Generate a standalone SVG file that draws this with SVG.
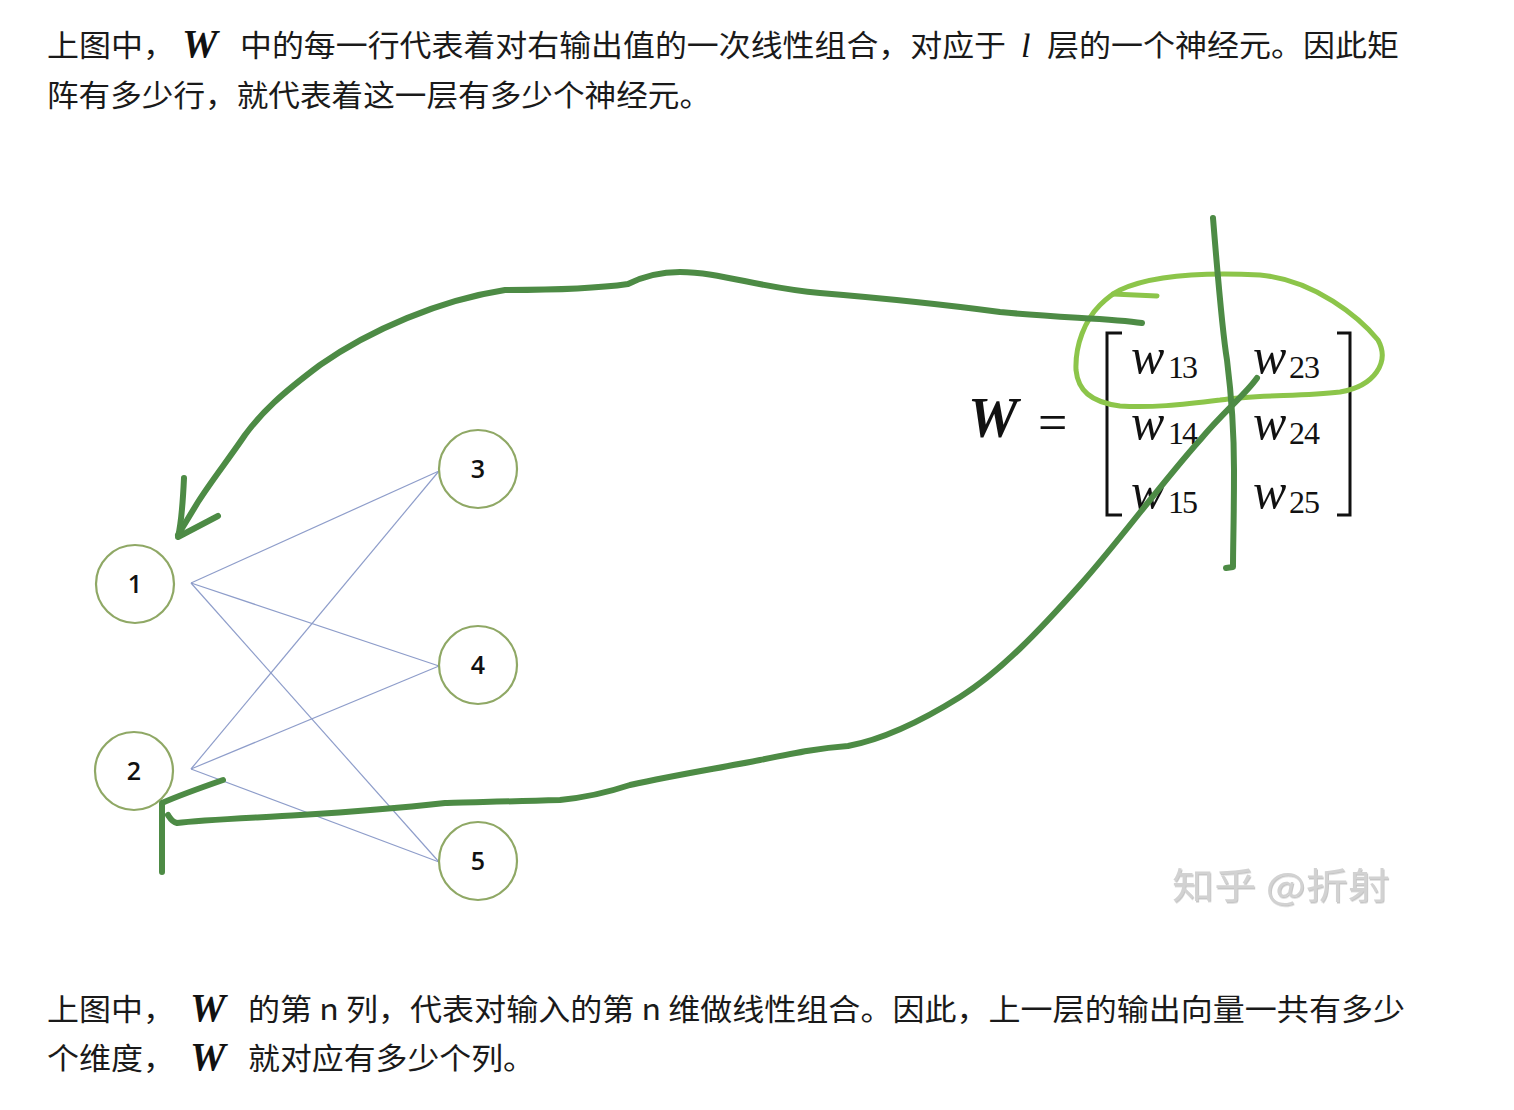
<svg xmlns="http://www.w3.org/2000/svg" width="1514" height="1110" viewBox="0 0 1514 1110">
<defs>
<style>
.cn{font-family:"Noto Sans CJK SC","Noto Sans",sans-serif;font-size:30px;fill:#1a1a1a;}
.bw{font-family:"Liberation Serif",serif;font-weight:bold;font-style:italic;fill:#111;}
.it{font-family:"Liberation Serif",serif;font-style:italic;fill:#111;}
.rm{font-family:"Liberation Serif",serif;fill:#111;}
.node circle{fill:#fff;stroke:#8fa865;stroke-width:2.2;}
.node text{font-family:"Open Sans","Liberation Sans",sans-serif;font-size:25px;font-weight:600;fill:#111;text-anchor:middle;}
.edge{stroke:#8e9dca;stroke-width:1.2;fill:none;}
.dk{stroke:#4d8b45;stroke-width:6;fill:none;stroke-linecap:round;stroke-linejoin:round;}
.lt{stroke:#8cc54a;stroke-width:5;fill:none;stroke-linecap:round;stroke-linejoin:round;}
.br{stroke:#111;stroke-width:3;fill:none;}
.wm{font-family:"Noto Sans CJK SC",sans-serif;font-size:36px;fill:#d2d2d2;}
</style>
<filter id="sh" x="-10%" y="-20%" width="130%" height="150%">
<feDropShadow dx="1" dy="1.5" stdDeviation="0.6" flood-color="#999" flood-opacity="0.55"/>
</filter>
</defs>
<rect width="1514" height="1110" fill="#fff"/>

<g id="text-top">
<text class="cn" x="47" y="56" textLength="128" lengthAdjust="spacingAndGlyphs">上图中，</text>
<text class="bw" x="182" y="57" font-size="40">W</text>
<text class="cn" x="240" y="56" textLength="766" lengthAdjust="spacingAndGlyphs">中的每一行代表着对右输出值的一次线性组合，对应于</text>
<text class="it" x="1021" y="57" font-size="34">l</text>
<text class="cn" x="1047" y="56" textLength="352" lengthAdjust="spacingAndGlyphs">层的一个神经元。因此矩</text>
<text class="cn" x="47" y="106" textLength="664" lengthAdjust="spacingAndGlyphs">阵有多少行，就代表着这一层有多少个神经元。</text>
</g>

<g id="connectors">
<line class="edge" x1="191" y1="583" x2="439" y2="471"/>
<line class="edge" x1="191" y1="583" x2="439" y2="666"/>
<line class="edge" x1="191" y1="583" x2="439" y2="862"/>
<line class="edge" x1="191" y1="769" x2="439" y2="471"/>
<line class="edge" x1="191" y1="769" x2="439" y2="666"/>
<line class="edge" x1="191" y1="769" x2="439" y2="862"/>
</g>

<g id="node-1" class="node"><circle cx="135" cy="584" r="39"/><text x="135" y="593">1</text></g>
<g id="node-2" class="node"><circle cx="134" cy="771" r="39"/><text x="134" y="780">2</text></g>
<g id="node-3" class="node"><circle cx="478" cy="469" r="39"/><text x="478" y="478">3</text></g>
<g id="node-4" class="node"><circle cx="478" cy="665" r="39"/><text x="478" y="674">4</text></g>
<g id="node-5" class="node"><circle cx="478" cy="861" r="39"/><text x="478" y="870">5</text></g>

<g id="matrix">
<text class="bw" x="968" y="437" font-size="56">W</text>
<text class="rm" x="1038" y="440" font-size="52">=</text>
<path class="br" d="M1122,333 L1107,333 L1107,515 L1122,515"/>
<path class="br" d="M1337,333 L1350,333 L1350,515 L1337,515"/>
<text class="it" x="1131" y="373" font-size="50">w</text><text class="rm" x="1168" y="378" font-size="32" textLength="30">13</text>
<text class="it" x="1253" y="373" font-size="50">w</text><text class="rm" x="1289" y="378" font-size="32" textLength="31">23</text>
<text class="it" x="1131" y="439" font-size="50">w</text><text class="rm" x="1168" y="444" font-size="32" textLength="30">14</text>
<text class="it" x="1253" y="439" font-size="50">w</text><text class="rm" x="1289" y="444" font-size="32" textLength="31">24</text>
<text class="it" x="1131" y="508" font-size="50">w</text><text class="rm" x="1168" y="513" font-size="32" textLength="30">15</text>
<text class="it" x="1253" y="508" font-size="50">w</text><text class="rm" x="1289" y="513" font-size="32" textLength="31">25</text>
</g>

<g id="annotations">
<path class="lt" d="M1113,294 L1157,296"/>
<path class="lt" d="M1120,290 C1150,276 1200,272 1260,275 C1315,280 1360,318 1378,340 C1390,362 1375,386 1340,392 C1300,397 1260,394 1220,400 C1180,405 1150,408 1120,406 C1090,402 1078,390 1076,370 C1075,345 1085,320 1100,305 C1108,297 1114,293 1120,290"/>
<path class="dk" d="M1142,323 C1110,318 1060,318 1000,312 C940,304 880,298 820,293 C760,288 720,272 680,272 C655,272 640,278 628,284 C600,288 560,290 505,290 C440,300 370,330 320,365 C280,395 262,412 245,435 C228,460 212,480 198,502 C190,515 184,525 178,535"/>
<path class="dk" d="M184,478 C183,500 182,520 178,537 L218,516"/>
<path class="dk" d="M1213,218 C1218,280 1222,330 1227,360 C1232,400 1234,440 1234,470 C1234,520 1233,545 1233,567 L1226,568"/>
<path class="dk" d="M1257,378 C1245,395 1225,410 1200,440 C1160,485 1120,540 1080,585 C1040,630 1000,672 960,697 C920,722 880,740 848,746 C820,748 800,752 760,760 C720,768 680,774 630,785 C600,795 580,798 560,800 C500,802 460,802 445,803 C400,808 350,812 300,815 C250,818 200,820 177,823 C172,822 170,818 168,815"/>
<path class="dk" d="M162,872 L162,803 C180,795 200,788 223,780"/>
</g>

<text class="wm" x="1172" y="899" filter="url(#sh)" textLength="218" lengthAdjust="spacingAndGlyphs">知乎 @折射</text>

<g id="text-bottom">
<text class="cn" x="47" y="1020" textLength="128" lengthAdjust="spacingAndGlyphs">上图中，</text>
<text class="bw" x="190" y="1021" font-size="40">W</text>
<text class="cn" x="248" y="1020" textLength="1157" lengthAdjust="spacingAndGlyphs">的第 n 列，代表对输入的第 n 维做线性组合。因此，上一层的输出向量一共有多少</text>
<text class="cn" x="47" y="1069" textLength="128" lengthAdjust="spacingAndGlyphs">个维度，</text>
<text class="bw" x="190" y="1070" font-size="40">W</text>
<text class="cn" x="248" y="1069" textLength="287" lengthAdjust="spacingAndGlyphs">就对应有多少个列。</text>
</g>
</svg>
